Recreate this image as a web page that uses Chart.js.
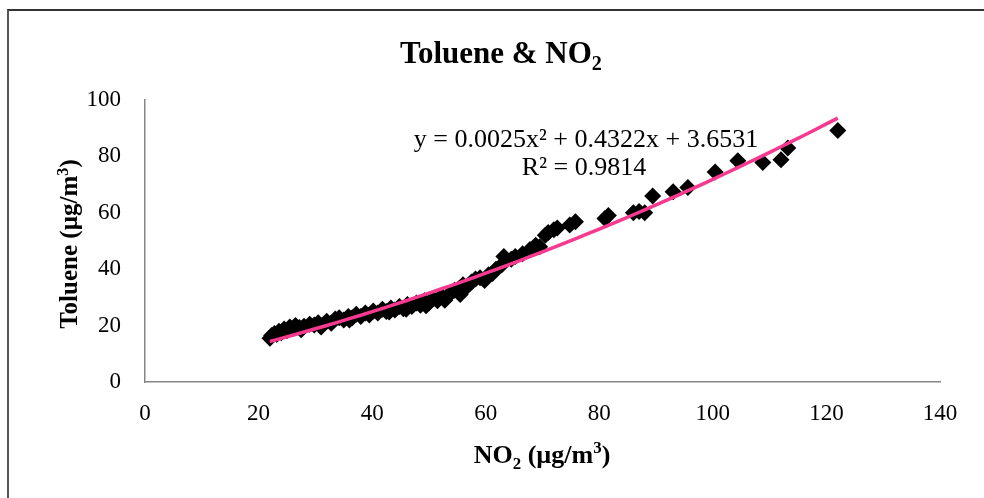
<!DOCTYPE html>
<html>
<head>
<meta charset="utf-8">
<script src="https://cdn.jsdelivr.net/npm/chart.js@4"></script>
<style>
  html, body { margin: 0; padding: 0; background: #fff; }
  #wrap { position: relative; width: 984px; height: 498px; overflow: hidden; }
  #frame { position: absolute; left: 7px; top: 9px; width: 1000px; height: 600px;
           border-top: 2px solid #333; border-left: 2px solid #555; }
  canvas { position: absolute; left: 0; top: 0; }
</style>
</head>
<body>
<div id="wrap">
  <div id="frame"></div>
  <canvas id="chart1" width="984" height="498"></canvas>
</div>
<script>
// NO2 (x) and Toluene (y) readings, µg/m3
const no2 = [
  22.0, 22.3, 22.8, 23.2, 23.6, 24.0, 24.5, 25.0, 25.5, 26.0, 26.5, 27.2, 28.0, 29.0, 29.8,
  30.5, 31.2, 32.0, 32.8, 33.5, 34.2, 35.0, 35.8, 36.5, 37.2, 38.0, 38.8, 39.5, 40.2, 41.0,
  41.8, 42.5, 43.3, 44.0, 44.8, 45.5, 46.2, 47.0, 47.8, 48.5, 49.2, 50.0, 50.8, 51.5, 52.2,
  53.0, 53.8, 54.5, 55.2, 56.0, 56.8, 57.5, 58.2, 59.0, 59.8, 60.5, 61.2, 61.8, 62.8, 63.2,
  64.5, 65.2, 66.5, 67.8, 68.8, 69.5, 70.5, 71.0, 72.0, 72.6, 74.8, 75.8, 81.0, 81.6, 86.0,
  87.0, 88.0, 89.4, 93.0, 95.6, 100.4, 104.4, 108.8, 112.0, 113.2, 122.0,
  43.0, 46.0, 49.5, 52.8, 55.5, 31.0, 27.5, 36.0
];
const toluene = [
  15.5, 16.5, 17.2, 16.8, 18.0, 17.5, 18.8, 18.2, 19.5, 19.0, 20.0, 19.3, 19.8, 20.5, 20.2,
  21.0, 20.0, 21.5, 20.8, 22.3, 22.8, 22.0, 23.2, 22.8, 24.0, 23.2, 24.5, 23.8, 25.2, 24.5,
  25.8, 25.0, 26.2, 25.5, 26.8, 26.0, 27.5, 26.8, 28.0, 27.2, 28.8, 28.0, 29.5, 28.8, 30.5,
  30.0, 31.5, 32.5, 33.0, 34.5, 34.0, 35.5, 36.5, 37.0, 36.0, 38.0, 38.5, 40.0, 41.5, 44.5,
  43.5, 44.5, 45.5, 47.0, 48.5, 48.0, 52.0, 53.0, 54.0, 54.6, 55.7, 56.8, 58.0, 59.0, 60.0,
  60.5, 60.0, 66.0, 67.5, 69.0, 74.5, 78.5, 77.8, 78.8, 83.0, 89.2,
  24.8, 25.8, 27.0, 29.0, 31.0, 19.5, 18.5, 22.0
];
// polynomial trendline coefficients: y = a x^2 + b x + c
const trendCoef = [0.0025, 0.4322, 3.6531];
const trendR2 = 0.9814;
const xTicks = [0, 20, 40, 60, 80, 100, 120, 140];
const yTicks = [0, 20, 40, 60, 80, 100];

const SERIF = "'Liberation Serif', 'Times New Roman', serif";

function trendAt(x) {
  return trendCoef[0] * x * x + trendCoef[1] * x + trendCoef[2];
}

// draws text made of parts, some of them subscript or superscript
function drawRich(ctx, parts, x, y, size, weight) {
  let total = 0;
  parts.forEach(p => {
    ctx.font = weight + " " + (p.s ? size * 0.65 : size) + "px " + SERIF;
    p.w = ctx.measureText(p.t).width;
    total += p.w;
  });
  let cx = x - total / 2;
  ctx.textAlign = "left";
  ctx.textBaseline = "alphabetic";
  parts.forEach(p => {
    ctx.font = weight + " " + (p.s ? size * 0.65 : size) + "px " + SERIF;
    let dy = p.s === "sub" ? size * 0.22 : (p.s === "sup" ? -size * 0.38 : 0);
    ctx.fillText(p.t, cx, y + dy);
    cx += p.w;
  });
}

const labelsPlugin = {
  id: "labels",
  afterDraw(chart) {
    const ctx = chart.ctx;
    ctx.save();
    ctx.fillStyle = "#000";
    drawRich(ctx, [{ t: "Toluene & NO" }, { t: "2", s: "sub" }], 501, 63, 31, "bold");
    drawRich(ctx, [{ t: "NO" }, { t: "2", s: "sub" }, { t: " (µg/m" }, { t: "3", s: "sup" }, { t: ")" }],
      542, 463, 26, "bold");
    ctx.translate(77, 244);
    ctx.rotate(-Math.PI / 2);
    drawRich(ctx, [{ t: "Toluene (µg/m" }, { t: "3", s: "sup" }, { t: ")" }], 0, 0, 25, "bold");
    ctx.restore();

    ctx.save();
    ctx.fillStyle = "#000";
    ctx.font = "26px " + SERIF;
    ctx.textAlign = "center";
    ctx.textBaseline = "alphabetic";
    const eq = "y = " + trendCoef[0].toFixed(4) + "x² + " + trendCoef[1].toFixed(4) + "x + " + trendCoef[2].toFixed(4);
    ctx.fillText(eq, 586, 147);
    ctx.fillText("R² = " + trendR2.toFixed(4), 584, 175);
    ctx.restore();
  }
};

window.onload = () => {
  const points = no2.map((x, i) => ({ x: x, y: toluene[i] }));
  const xs = [];
  const xmin = Math.min(...no2), xmax = Math.max(...no2);
  for (let k = 0; k <= 50; k++) xs.push(xmin + (xmax - xmin) * k / 50);
  const trend = xs.map(x => ({ x: x, y: trendAt(x) }));

  new Chart(document.getElementById("chart1"), {
    type: "scatter",
    data: {
      datasets: [
        {
          label: "Toluene",
          data: points,
          pointStyle: "rectRot",
          pointRadius: 8.5,
          pointBackgroundColor: "#000",
          pointBorderColor: "#000",
          pointBorderWidth: 0,
          order: 2,
        },
        {
          label: "Poly. (Toluene)",
          type: "line",
          data: trend,
          borderColor: "#F7398F",
          borderWidth: 3.5,
          pointRadius: 0,
          tension: 0,
          order: 1,
        },
      ],
    },
    options: {
      responsive: false,
      animation: false,
      devicePixelRatio: 1,
      layout: { padding: { top: 100, right: 44, left: 0, bottom: 0 } },
      plugins: { legend: { display: false }, tooltip: { enabled: false }, title: { display: false } },
      scales: {
        x: {
          type: "linear",
          min: 0, max: 140,
          afterBuildTicks: s => { s.ticks = xTicks.map(v => ({ value: v })); },
          afterFit: s => { s.height = 116; },
          grid: { display: false, drawTicks: false },
          border: { color: "#868686", width: 1.5 },
          ticks: { padding: 18, color: "#000", font: { family: SERIF, size: 23 } },
        },
        y: {
          type: "linear",
          min: 0, max: 100,
          afterBuildTicks: s => { s.ticks = yTicks.map(v => ({ value: v })); },
          afterFit: s => { s.width = 145; },
          grid: { display: false, drawTicks: false },
          border: { color: "#868686", width: 1.5 },
          ticks: { padding: 24, color: "#000", font: { family: SERIF, size: 23 } },
        },
      },
    },
    plugins: [labelsPlugin],
  });
};
</script>
</body>
</html>
